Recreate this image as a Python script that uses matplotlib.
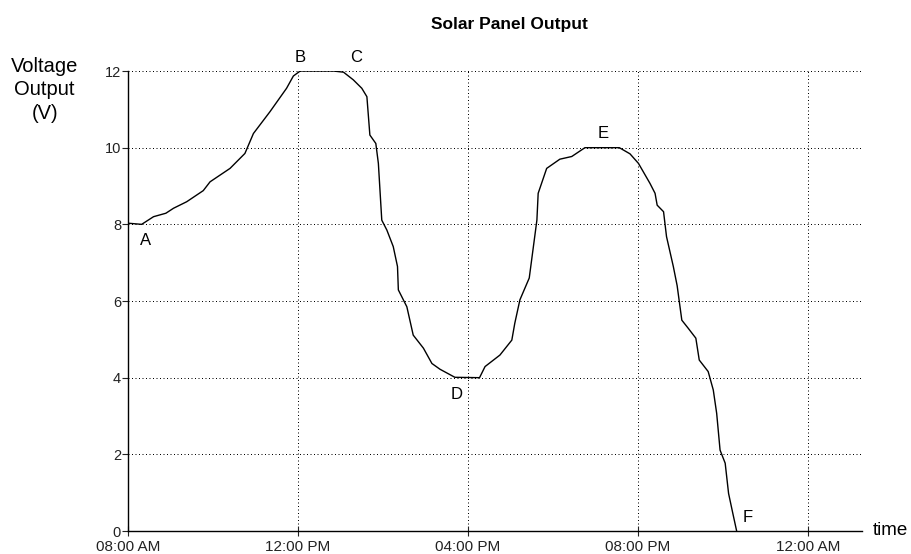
import matplotlib.pyplot as plt

# hours since midnight
hours = [8.0, 8.32, 8.6, 8.89, 9.07, 9.38, 9.77, 9.93, 10.4, 10.75, 10.95, 11.34,
         11.73, 11.89, 12.05, 12.83, 13.07, 13.3, 13.5, 13.62, 13.69, 13.83, 13.89,
         13.97, 14.09, 14.24, 14.34, 14.36, 14.56, 14.71, 14.95, 15.15, 15.34, 15.69,
         16.27, 16.4, 16.75, 17.03, 17.1, 17.22, 17.44, 17.62, 17.65, 17.85, 18.16,
         18.44, 18.75, 19.56, 19.81, 20.01, 20.28, 20.4, 20.45, 20.6, 20.67, 20.83,
         20.92, 21.03, 21.18, 21.36, 21.44, 21.65, 21.77, 21.85, 21.93, 22.05, 22.13,
         22.23, 22.32]
volts = [8.03, 8.0, 8.2, 8.29, 8.42, 8.59, 8.88, 9.11, 9.46, 9.85, 10.37, 10.94,
         11.55, 11.87, 12.0, 12.0, 11.97, 11.77, 11.55, 11.33, 10.33, 10.11, 9.59,
         8.11, 7.85, 7.42, 6.9, 6.29, 5.85, 5.11, 4.77, 4.37, 4.22, 4.01,
         4.0, 4.29, 4.59, 4.98, 5.42, 6.03, 6.6, 8.11, 8.81, 9.46, 9.7,
         9.77, 10.0, 10.0, 9.84, 9.59, 9.07, 8.81, 8.5, 8.33, 7.68, 6.9,
         6.4, 5.5, 5.29, 5.03, 4.46, 4.16, 3.68, 3.07, 2.11, 1.77, 0.98,
         0.46, 0.0]

tick_hours = [8, 12, 16, 20, 24]
tick_labels = ["08:00 AM", "12:00 PM", "04:00 PM", "08:00 PM", "12:00 AM"]
y_ticks = [0, 2, 4, 6, 8, 10, 12]

# point labels: letter, hour, volts (where the letter sits)
point_letters = ["A", "B", "C", "D", "E", "F"]
point_hours = [8.4, 12.05, 13.36, 15.74, 19.18, 22.59]
point_volts = [7.57, 12.34, 12.34, 3.55, 10.38, 0.34]

plt.rcParams['font.family'] = ['Liberation Sans', 'DejaVu Sans']

fig = plt.figure(figsize=(9.12, 5.54), dpi=100)
ax = fig.add_axes([0.1404, 0.0415, 0.8048, 0.8303])

ax.plot(hours, volts, color='black', lw=1.0)

ax.set_xlim(8, 25.27)
ax.set_ylim(0, 12)
ax.set_xticks(tick_hours)
ax.set_xticklabels(tick_labels)
ax.set_yticks(y_ticks)

ax.grid(True, color='black', lw=0.72, linestyle=(0, (1, 2.5)))
ax.spines['top'].set_visible(False)
ax.spines['right'].set_visible(False)
ax.spines['left'].set_linewidth(1.0)
ax.spines['bottom'].set_linewidth(1.0)
ax.tick_params(axis='x', direction='inout', length=7, labelsize=11, pad=3, colors='#222222')
ax.tick_params(axis='y', direction='out', length=4, labelsize=10.5, pad=1, colors='#222222')

for letter, h, v in zip(point_letters, point_hours, point_volts):
    ax.text(h, v, letter, fontsize=12, ha='center', va='center')

fig.text(0.559, 0.955, "Solar Panel Output", fontsize=12.5, fontweight='bold',
         ha='center', va='center')
fig.text(0.049, 0.838, "Voltage\nOutput\n(V)", fontsize=14.5, ha='center',
         va='center', linespacing=1.3)
fig.text(0.957, 0.043, "time", fontsize=13.5, ha='left', va='center')

fig.savefig("out.png", dpi=100)
